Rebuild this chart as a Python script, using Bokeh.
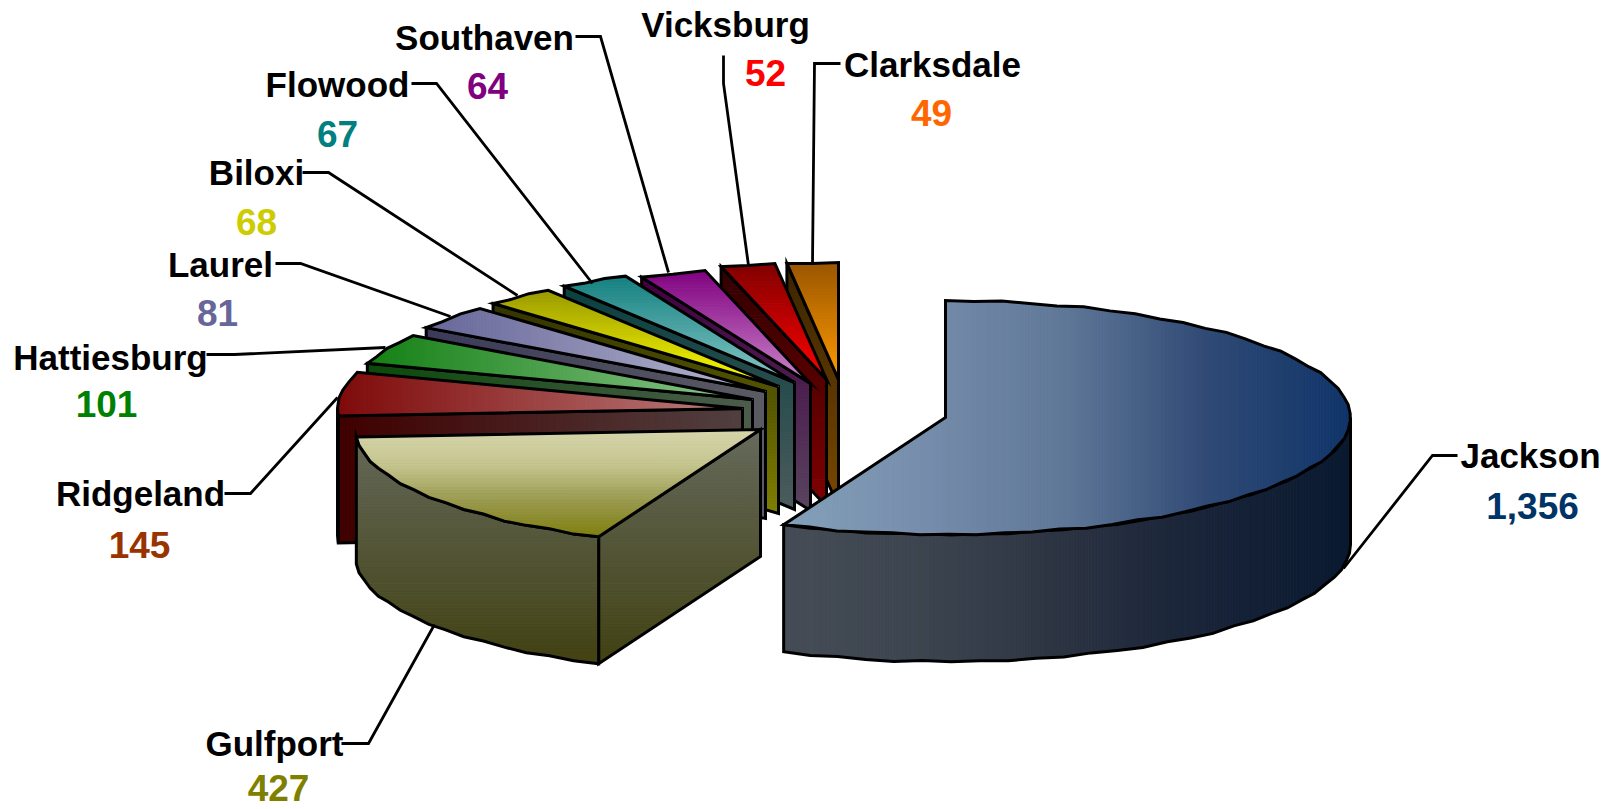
import math
import numpy as np
from bokeh.plotting import figure
from bokeh.embed import file_html
from bokeh.resources import INLINE
from bokeh.core.properties import value as bk_value

# ---- data ----
cities = ["Jackson", "Gulfport", "Ridgeland", "Hattiesburg", "Laurel", "Biloxi",
          "Flowood", "Southaven", "Vicksburg", "Clarksdale"]
values = [1356, 427, 145, 101, 81, 68, 67, 64, 52, 49]
value_labels = ["1,356", "427", "145", "101", "81", "68", "67", "64", "52", "49"]

# ---- layout (page pixels) ----
RX, RY, DEPTH = 405.0, 117.0, 127.0
TEXT_SHIFT = -13
apex = [(945, 417), (760, 429), (742, 408), (752, 399), (765, 391), (778, 386),
        (794, 382), (810, 383), (826, 379), (838, 379)]
name_pos = [(1530, 468), (274, 756), (140, 506), (110, 370), (220, 277), (256, 185),
            (337, 97), (484, 50), (725, 37), (932, 77)]
val_pos = [(1532, 518), (278, 800), (139, 557), (106, 416), (217, 325), (256, 234),
           (337, 146), (487, 98), (765, 85), (931, 125)]
val_colors = ["#003366", "#808000", "#993300", "#008000", "#666699", "#cccc00",
              "#008080", "#800080", "#ff0000", "#ff6600"]
leaders = [
    [(1457, 455), (1432, 455), (1343, 568)],
    [(341, 743), (368, 743), (434, 624)],
    [(224, 493), (250, 493), (337, 397)],
    [(206, 354), (234, 354), (385, 347)],
    [(275, 263), (300, 263), (450, 316)],
    [(302, 172), (328, 172), (517, 295)],
    [(411, 83), (436, 83), (592, 283)],
    [(575, 36), (600, 36), (668, 272)],
    [(723, 55), (723, 83), (748, 265)],
    [(840, 63), (814, 63), (812, 263)],
]
JAG = [0.0, 0.8, -0.7, 0.4, 1.0, -0.8, 0.3, -0.4, 0.7, -0.3, 0.6, -0.8]
BOUNDARY_NUDGE = [0.0, 1.0, 0, 0, 0, 0, 0, 0, 0, 0, 0]  # degrees, drawn boundary vs exact share
# (axis, stops) of the gradient of the top face and of the walls
top_style = [
    ("x", ["#84a0ba", "#768dab", "#5f7797", "#2f4a75", "#103469"]),
    ("y", ["#d6d6ac", "#c5c590", "#9a9a50", "#808010"]),
    ("x", ["#7f0a0a", "#bc8080"]),
    ("x", ["#148014", "#90c890"]),
    ("x", ["#66669a", "#b8b8d0"]),
    ("y", ["#999900", "#ffff00"]),
    ("y", ["#148080", "#88c8c8"]),
    ("y", ["#800080", "#cc88cc"]),
    ("y", ["#800000", "#ff0000"]),
    ("y", ["#995500", "#ff9900"]),
]
wall_style = [
    ("x", ["#454c56", "#3c454f", "#2b3342", "#182338", "#0a1a30"]),
    ("y", ["#666a5c", "#404010"]),
    ("x", ["#400000", "#524040"]),
    ("x", ["#0b4a0b", "#4d5d4d"]),
    ("x", ["#3a3a5a", "#5c5c64"]),
    ("y", ["#333300", "#808000"]),
    ("y", ["#0a4040", "#4d5c5e"]),
    ("y", ["#400040", "#5a4460"]),
    ("y", ["#300000", "#800000"]),
    ("y", ["#3a2400", "#7a4800"]),
]

p = figure(width=1613, height=809, x_range=(0, 1613), y_range=(809, 0),
           output_backend="svg", toolbar_location=None, min_border=0)
p.axis.visible = False
p.grid.visible = False
p.outline_line_color = None
p.background_fill_color = "#ffffff"


def hex2rgb(h):
    return [int(h[i:i + 2], 16) for i in (1, 3, 5)]


def ramp(stops, t):
    pos = np.linspace(0, 1, len(stops))
    rgb = [np.interp(t, pos, [hex2rgb(s)[k] for s in stops]) for k in range(3)]
    return "#%02x%02x%02x" % tuple(int(round(v)) for v in rgb)


def clip(poly, axis, lim, keep_above):
    k = 0 if axis == "x" else 1
    out = []
    for i, a in enumerate(poly):
        b = poly[(i + 1) % len(poly)]
        ina = a[k] >= lim if keep_above else a[k] <= lim
        inb = b[k] >= lim if keep_above else b[k] <= lim
        if ina:
            out.append(a)
        if ina != inb:
            t = (lim - a[k]) / (b[k] - a[k])
            out.append((a[0] + t * (b[0] - a[0]), a[1] + t * (b[1] - a[1])))
    return out


def shade(poly, style, lo=None, hi=None):
    axis, stops = style
    k = 0 if axis == "x" else 1
    vals = [q[k] for q in poly]
    lo = min(vals) if lo is None else lo
    hi = max(vals) if hi is None else hi
    n = max(4, int((hi - lo) / 3))
    xs, ys, cols = [], [], []
    for i in range(n):
        a = lo + (hi - lo) * i / n
        b = lo + (hi - lo) * (i + 1) / n
        part = clip(clip(poly, axis, a, True), axis, b, False)
        if len(part) < 3:
            continue
        xs.append([q[0] for q in part])
        ys.append([q[1] for q in part])
        cols.append(ramp(stops, (i + .5) / n))
    p.patches(xs, ys, fill_color=cols, line_color=cols, line_width=1)


def outline(poly, width=3.0):
    p.patches([[q[0] for q in poly]], [[q[1] for q in poly]], fill_alpha=0,
              line_color="#000000", line_width=width, line_join="miter")


def pt(c, deg, dy=0.0):
    r = math.radians(deg)
    return (c[0] + RX * math.sin(r), c[1] - RY * math.cos(r) + dy)


def arc(c, a0, a1, dy=0.0, step=4.0):
    n = max(1, int(round(abs(a1 - a0) / step)))
    out = []
    for i in range(n + 1):
        q = pt(c, a0 + (a1 - a0) * i / n, dy)
        if 0 < i < n:
            q = (q[0], q[1] + JAG[i % len(JAG)])
        out.append(q)
    return out


total = sum(values)
angles = np.cumsum([0] + values) / total * 360.0 + np.array(BOUNDARY_NUDGE)
order = list(range(len(values) - 1, 0, -1)) + [0]

for i in order:
    c, a0, a1 = apex[i], float(angles[i]), float(angles[i + 1])
    w0, w1 = max(a0, 90.0), min(a1, 270.0)
    span = (c[1], c[1] + RY + DEPTH) if i == 1 else (None, None)
    if i > 0:
        corner = pt(c, a0)
        radial = [corner, c, (c[0], c[1] + DEPTH), (corner[0], corner[1] + DEPTH)]
        shade(radial, wall_style[i], *span)
        outline(radial)
    if w1 > w0:
        wall = arc(c, w0, w1) + arc(c, w1, w0, DEPTH)
        shade(wall, wall_style[i], *span)
        outline(wall)
    top = [c] + arc(c, a0, a1)
    shade(top, top_style[i])
    outline(top)

for pts in leaders:
    p.line([q[0] for q in pts], [q[1] for q in pts], line_color="#000000", line_width=2.8,
           line_join="miter")

font = bk_value("Liberation Sans")
p.text([q[0] for q in name_pos], [q[1] + TEXT_SHIFT for q in name_pos], text=cities,
       text_font=font, text_font_style="bold", text_font_size="35px", text_color="#000000",
       text_align="center", text_baseline="alphabetic")
p.text([q[0] for q in val_pos], [q[1] + TEXT_SHIFT for q in val_pos], text=value_labels,
       text_font=font, text_font_style="bold", text_font_size="37px", text_color=val_colors,
       text_align="center", text_baseline="alphabetic")

open("out.html", "w").write(file_html(p, INLINE))
